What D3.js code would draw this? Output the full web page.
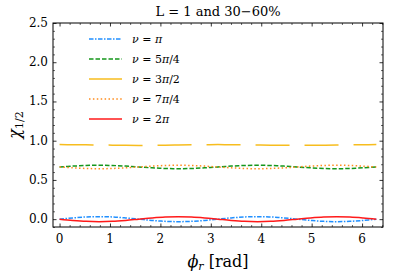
<!DOCTYPE html>
<html>
<head>
    <title>L = 1 and 30-60%</title>
    <style type="text/css">
        body { margin: 0; background: #fff; }
        svg text { font-family: 'DejaVu Serif', serif; fill: #000; }
        .tick-label { font-size: 12px; }
        .legend text { font-size: 11px; }
    </style>
</head>
<body>
    <script src="https://d3js.org/d3.v7.min.js" type="text/javascript"></script>
    <script type="text/javascript">

        // phi_r samples [rad]
        var phi = [0, 0.262, 0.524, 0.785, 1.047, 1.309, 1.571, 1.833, 2.094, 2.356, 2.618, 2.880,
            3.142, 3.403, 3.665, 3.927, 4.189, 4.451, 4.712, 4.974, 5.236, 5.498, 5.760, 6.021, 6.283];

        // chi_1/2, one array per nu
        var nuPi = [0.000, 0.016, 0.028, 0.032, 0.028, 0.016, 0.000, -0.016, -0.028, -0.032, -0.028, -0.016,
            0.000, 0.016, 0.028, 0.032, 0.028, 0.016, 0.000, -0.016, -0.028, -0.032, -0.028, -0.016, 0.000];
        var nu5Pi4 = [0.665, 0.676, 0.684, 0.687, 0.684, 0.676, 0.665, 0.654, 0.646, 0.643, 0.646, 0.654,
            0.665, 0.676, 0.684, 0.687, 0.684, 0.676, 0.665, 0.654, 0.646, 0.643, 0.646, 0.654, 0.665];
        var nu3Pi2 = [0.950, 0.949, 0.948, 0.945, 0.943, 0.941, 0.940, 0.941, 0.943, 0.945, 0.948, 0.949,
            0.950, 0.949, 0.948, 0.945, 0.943, 0.941, 0.940, 0.941, 0.943, 0.945, 0.948, 0.949, 0.950];
        var nu7Pi4 = [0.665, 0.654, 0.646, 0.643, 0.646, 0.654, 0.665, 0.676, 0.684, 0.687, 0.684, 0.676,
            0.665, 0.654, 0.646, 0.643, 0.646, 0.654, 0.665, 0.676, 0.684, 0.687, 0.684, 0.676, 0.665];
        var nu2Pi = [0.000, -0.016, -0.028, -0.032, -0.028, -0.016, 0.000, 0.016, 0.028, 0.032, 0.028, 0.016,
            0.000, -0.016, -0.028, -0.032, -0.028, -0.016, 0.000, 0.016, 0.028, 0.032, 0.028, 0.016, 0.000];

        var xTicks = [0, 1, 2, 3, 4, 5, 6];
        var yTicks = [0.0, 0.5, 1.0, 1.5, 2.0, 2.5];

        // legend label parts: [number before pi, after pi]
        var series = [
            { nu: ['', ''], values: nuPi, color: '#1f8fff', dash: '4.5,1.5,1.5,1.5' },
            { nu: ['5', '/4'], values: nu5Pi4, color: '#14961a', dash: '4.5,2' },
            { nu: ['3', '/2'], values: nu3Pi2, color: '#f7bd1e', dash: '34,15' },
            { nu: ['7', '/4'], values: nu7Pi4, color: '#ff8c1c', dash: '1.5,2.4' },
            { nu: ['2', ''], values: nu2Pi, color: '#ff1a1a', dash: null }
        ];

        // plot frame (window.top is read-only, so no bare "top")
        var fL = 53, fR = 383, fT = 23, fB = 227;

        var svg = d3.select('body').append('svg')
            .attr('width', 407)
            .attr('height', 274);

        var x = d3.scaleLinear().domain([-0.13, 6.415]).range([fL, fR]);
        var y = d3.scaleLinear().domain([-0.1, 2.5]).range([fB, fT]);

        // curves
        var line = d3.line()
            .x(function (d, i) { return x(phi[i]); })
            .y(function (d) { return y(d); })
            .curve(d3.curveCatmullRom);

        svg.append('g').selectAll('path')
            .data(series)
            .enter().append('path')
            .attr('d', function (s) { return line(s.values); })
            .attr('fill', 'none')
            .attr('stroke', function (s) { return s.color; })
            .attr('stroke-width', 1.5)
            .attr('stroke-dasharray', function (s) { return s.dash; });

        // ticks, inward on all four sides
        var xMinor = d3.range(0, 6.41, 0.2).filter(function (v) { return Math.abs(v - Math.round(v)) > 0.01; });
        var yMinor = d3.range(-0.1, 2.51, 0.1).filter(function (v) { return Math.abs(v * 2 - Math.round(v * 2)) > 0.01; });

        var axes = [
            { axis: d3.axisBottom(x), at: fB, dir: 'x' },
            { axis: d3.axisTop(x), at: fT, dir: 'x' },
            { axis: d3.axisLeft(y), at: fL, dir: 'y' },
            { axis: d3.axisRight(y), at: fR, dir: 'y' }
        ];
        axes.forEach(function (a) {
            var major = a.dir === 'x' ? xTicks : yTicks;
            var minor = a.dir === 'x' ? xMinor : yMinor;
            var tr = a.dir === 'x' ? 'translate(0,' + a.at + ')' : 'translate(' + a.at + ',0)';
            svg.append('g').attr('transform', tr)
                .call(a.axis.tickValues(minor).tickSize(-2).tickFormat(''))
                .call(function (g) { g.select('.domain').remove(); })
                .selectAll('line').attr('stroke', '#000').attr('stroke-width', 0.6);
            svg.append('g').attr('transform', tr)
                .call(a.axis.tickValues(major).tickSize(-3.5).tickFormat(''))
                .call(function (g) { g.select('.domain').remove(); })
                .selectAll('line').attr('stroke', '#000').attr('stroke-width', 0.8);
        });

        svg.append('rect')
            .attr('x', fL).attr('y', fT)
            .attr('width', fR - fL).attr('height', fB - fT)
            .attr('fill', 'none').attr('stroke', '#000').attr('stroke-width', 1);

        // tick labels
        svg.append('g').selectAll('text')
            .data(xTicks).enter().append('text')
            .attr('class', 'tick-label')
            .attr('x', function (d) { return x(d); })
            .attr('y', fB + 16)
            .attr('text-anchor', 'middle')
            .text(function (d) { return d; });

        svg.append('g').selectAll('text')
            .data(yTicks).enter().append('text')
            .attr('class', 'tick-label')
            .attr('x', fL - 5)
            .attr('y', function (d) { return y(d) + 4; })
            .attr('text-anchor', 'end')
            .text(function (d) { return d.toFixed(1); });

        // title and axis labels
        svg.append('text')
            .attr('x', (fL + fR) / 2).attr('y', 16)
            .attr('text-anchor', 'middle')
            .style('font-size', '13px')
            .text('L = 1 and 30\u221260%');

        var xl = svg.append('text')
            .attr('x', (fL + fR) / 2).attr('y', 267)
            .attr('text-anchor', 'middle')
            .style('font-size', '16px');
        xl.append('tspan').style('font-style', 'italic').text('ϕ');
        xl.append('tspan').style('font-style', 'italic').style('font-size', '11px').attr('dy', 3).text('r');
        xl.append('tspan').attr('dy', -3).text(' [rad]');

        var yl = svg.append('text')
            .attr('transform', 'translate(20,' + ((fT + fB) / 2) + ') rotate(-90)')
            .attr('text-anchor', 'middle')
            .style('font-size', '16px');
        yl.append('tspan').style('font-style', 'italic').text('χ');
        yl.append('tspan').style('font-size', '11px').attr('dy', 3).text('1/2');

        // legend
        var legend = svg.append('g').attr('class', 'legend');
        var rows = legend.selectAll('g')
            .data(series).enter().append('g')
            .attr('transform', function (s, i) { return 'translate(89,' + (39 + i * 20) + ')'; });
        rows.append('line')
            .attr('x1', 0).attr('x2', 33).attr('y1', 0).attr('y2', 0)
            .attr('stroke', function (s) { return s.color; })
            .attr('stroke-width', 1.5)
            .attr('stroke-dasharray', function (s) { return s.dash; });
        var lt = rows.append('text').attr('x', 43).attr('y', 4);
        lt.append('tspan').style('font-style', 'italic').text('ν');
        lt.append('tspan').text(function (s) { return ' = ' + s.nu[0]; });
        lt.append('tspan').style('font-style', 'italic').text('π');
        lt.append('tspan').text(function (s) { return s.nu[1]; });

    </script>
</body>
</html>
